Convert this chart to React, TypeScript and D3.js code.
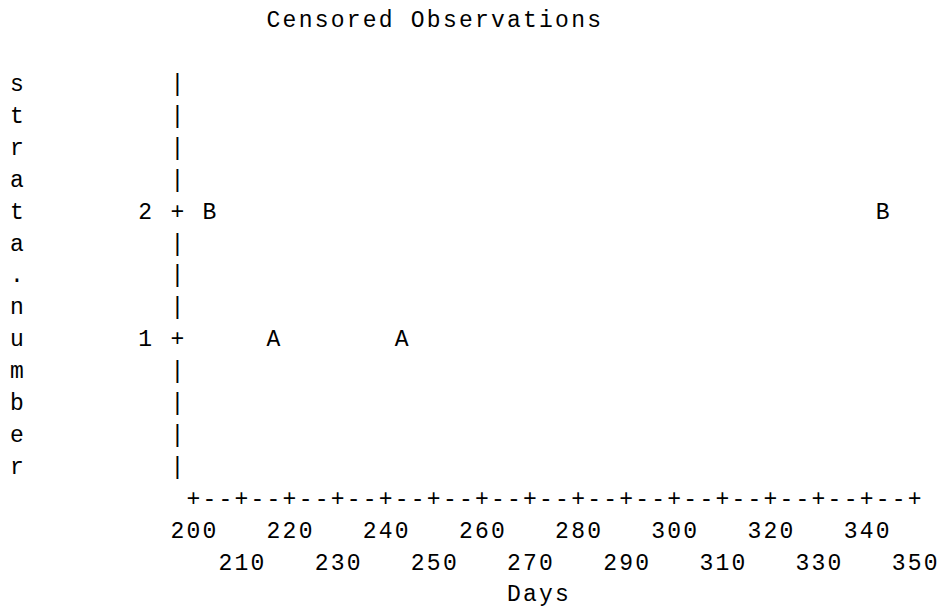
import React from "react";
import * as d3 from "d3";

// Line-printer style scatter plot: every glyph sits on a fixed character grid.
const title = "Censored Observations";
const yAxisLabel = "strata.number";
const xAxisLabel = "Days";
const strataTicks = [1, 2];
const dayTicks = [200, 210, 220, 230, 240, 250, 260, 270, 280, 290, 300, 310, 320, 330, 340, 350];
const stratum1Days = [217, 243];
const stratum2Days = [203, 343];
const plotSymbols = ["A", "B"];

const W = 939;
const H = 607;
const CELL_W = 16.03;
const CELL_H = 31.9;
const COL0 = 17;
const ROW0 = 19;
const FONT = "'Liberation Mono', 'Courier New', monospace";
const FONT_SIZE = 23;

const colX = (c: number) => COL0 + c * CELL_W;
const rowY = (r: number) => ROW0 + r * CELL_H;

// Scales map data onto grid columns / rows.
const xCol = d3.scaleLinear().domain([200, 350]).range([11, 56]);
const yRow = d3.scaleLinear().domain([1, 2]).range([10, 6]);
const AXIS_COL = 10;
const AXIS_ROW = 15;
const TOP_ROW = 2;
const BOTTOM_ROW = 14;

type Glyph = { ch: string; col: number; row: number };

function buildGlyphs(): Glyph[] {
  const g: Glyph[] = [];
  const put = (s: string, col: number, row: number) => {
    for (let i = 0; i < s.length; i++) g.push({ ch: s[i], col: col + i, row });
  };

  put(title, 16, 0);

  // vertical label, one letter per row
  for (let i = 0; i < yAxisLabel.length; i++) g.push({ ch: yAxisLabel[i], col: 0, row: TOP_ROW + i });

  // vertical axis
  const tickRows = new Set(strataTicks.map((v) => Math.round(yRow(v))));
  for (let r = TOP_ROW; r <= BOTTOM_ROW; r++) {
    g.push({ ch: tickRows.has(r) ? "+" : "|", col: AXIS_COL, row: r });
  }
  strataTicks.forEach((v) => {
    const lab = String(v);
    put(lab, AXIS_COL - 1 - lab.length, Math.round(yRow(v)));
  });

  // horizontal axis
  const tickCols = new Set(dayTicks.map((v) => Math.round(xCol(v))));
  const [c0, c1] = xCol.range();
  for (let c = c0; c <= c1; c++) g.push({ ch: tickCols.has(c) ? "+" : "-", col: c, row: AXIS_ROW });
  dayTicks.forEach((v, i) => {
    const lab = String(v);
    const c = Math.round(xCol(v));
    put(lab, c - Math.floor(lab.length / 2), AXIS_ROW + 1 + (i % 2));
  });

  put(xAxisLabel, 31, AXIS_ROW + 3);

  // observations
  [stratum1Days, stratum2Days].forEach((days, si) => {
    days.forEach((d) => {
      g.push({ ch: plotSymbols[si], col: Math.round(xCol(d)), row: Math.round(yRow(strataTicks[si])) });
    });
  });
  return g;
}

export default function App() {
  const glyphs = buildGlyphs();
  return (
    <svg
      width={W}
      height={H}
      viewBox={`0 0 ${W} ${H}`}
      style={{ position: "absolute", left: 0, top: 0, background: "#fff" }}
    >
      <rect width={W} height={H} fill="#fff" />
      <g fontFamily={FONT} fontSize={FONT_SIZE} fill="#000" textAnchor="middle">
        {glyphs.map((g, i) => (
          <text key={i} x={colX(g.col)} y={rowY(g.row)} dy="0.36em">
            {g.ch}
          </text>
        ))}
      </g>
    </svg>
  );
}
